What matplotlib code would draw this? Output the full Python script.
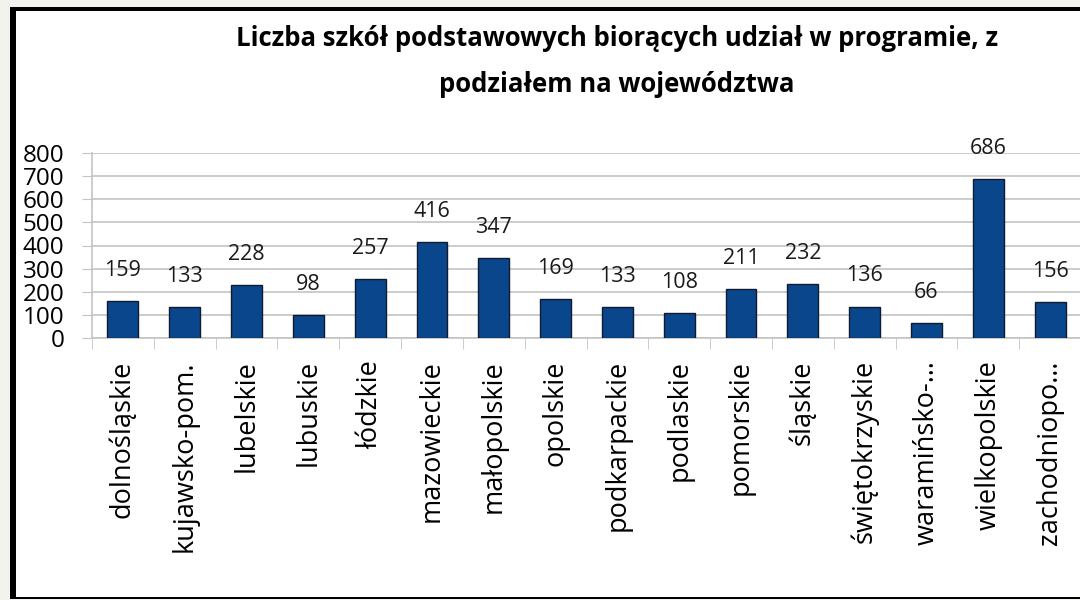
import matplotlib
matplotlib.use("Agg")
import matplotlib.pyplot as plt
from matplotlib.patches import Rectangle

categories = ["dolnośląskie", "kujawsko-pom.", "lubelskie", "lubuskie", "łódzkie",
              "mazowieckie", "małopolskie", "opolskie", "podkarpackie", "podlaskie",
              "pomorskie", "śląskie", "świętokrzyskie", "waramińsko-…", "wielkopolskie",
              "zachodniopo…"]
values = [159, 133, 228, 98, 257, 416, 347, 169, 133, 108, 211, 232, 136, 66, 686, 156]
yticks = [0, 100, 200, 300, 400, 500, 600, 700, 800]
title_lines = ["Liczba szkół podstawowych biorących udział w programie, z",
               "podziałem na województwa"]

plt.rcParams['font.family'] = ['Open Sans', 'DejaVu Sans']

W, H = 1080, 600
fig = plt.figure(figsize=(W / 100, H / 100), dpi=100, facecolor="#f3f3ee")

# white panel with black frame
fig.patches.append(Rectangle((10 / W, 1 - 598 / H), 1.2, (598 - 8) / H,
                             transform=fig.transFigure, facecolor="white",
                             edgecolor="none", zorder=-5))
fig.patches.append(Rectangle((10 / W, 1 - 598 / H), 6 / W, (598 - 8) / H,
                             transform=fig.transFigure, facecolor="black", zorder=-4))
fig.patches.append(Rectangle((10 / W, 1 - 11 / H), 1.2, 4 / H,
                             transform=fig.transFigure, facecolor="black", zorder=-4))
fig.patches.append(Rectangle((10 / W, 1 - 599 / H), 1.2, 2.5 / H,
                             transform=fig.transFigure, facecolor="black", zorder=-4))

left_px, right_px, top_px, bottom_px = 92, 1081, 153, 338
ax = fig.add_axes([left_px / W, 1 - bottom_px / H, (right_px - left_px) / W,
                   (bottom_px - top_px) / H])
ax.set_zorder(2)
ax.set_facecolor("none")

x = list(range(len(categories)))
ax.bar(x, values, width=0.5, color="#0a468b", edgecolor="#101a30", linewidth=1, zorder=3)

for xi, v in zip(x, values):
    ax.annotate(str(v), xy=(xi, v), xytext=(0, 22), textcoords="offset points",
                ha="center", va="center", fontsize=15.5, color="#1a1a1a", zorder=4)

ax.set_xlim(-0.5, len(categories) - 0.5)
ax.set_ylim(0, 800)
ax.set_yticks(yticks)
ax.set_yticklabels([str(t) for t in yticks], fontsize=17.5, color="black")
ax.grid(axis="y", color="#c4c4c4", linewidth=1.2, zorder=0)
ax.tick_params(axis="y", length=7, color="#c4c4c4", pad=13)

ax.set_xticks(x)
ax.set_xticklabels(categories, rotation=90, fontsize=19.5, color="black", va="top", ha="center")
ax.tick_params(axis="x", which="major", length=0, pad=16)
ax.set_xticks([i - 0.5 for i in range(len(categories) + 1)], minor=True)
ax.tick_params(axis="x", which="minor", length=8, color="#c4c4c4")

for s in ["top", "right"]:
    ax.spines[s].set_visible(False)
for s in ["left", "bottom"]:
    ax.spines[s].set_color("#c4c4c4")
    ax.spines[s].set_linewidth(1.2)

for line, ypx in zip(title_lines, [38, 85]):
    fig.text(617 / W, 1 - ypx / H, line, ha="center", va="center", fontsize=18.5,
             fontweight="bold", color="black")

fig.savefig("out.png", dpi=100, facecolor=fig.get_facecolor())
